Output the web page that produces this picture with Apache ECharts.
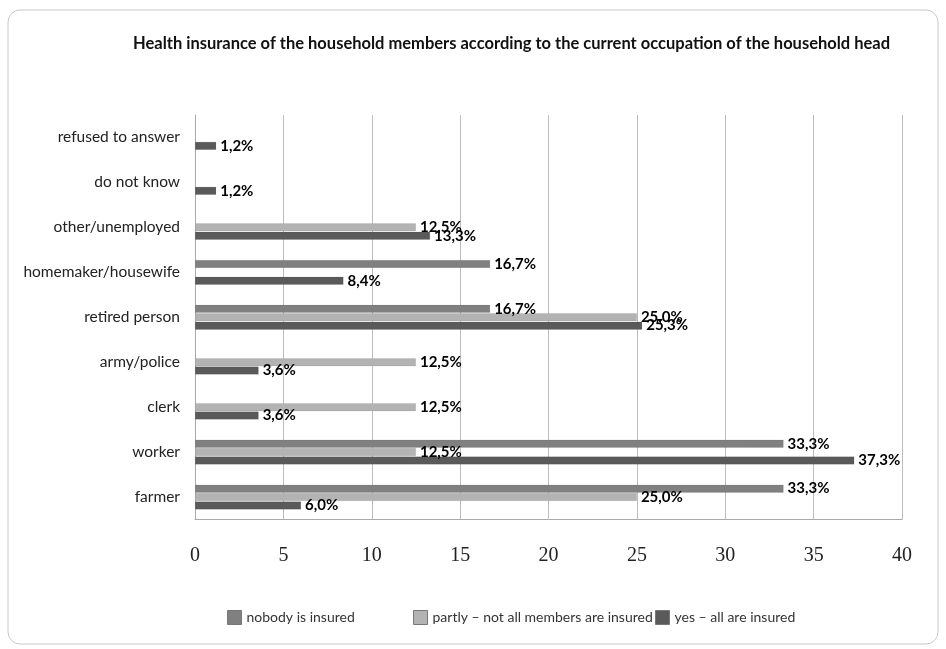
<!DOCTYPE html>
<html>
<head>
<meta charset="utf-8">
<script src="https://cdn.jsdelivr.net/npm/echarts@6/dist/echarts.min.js"></script>
<style>html,body{margin:0;padding:0;background:#fff}#c{width:946px;height:649px}</style>
</head>
<body>
<div id="c"></div>
<script>
const categories = ['farmer','worker','clerk','army/police','retired person','homemaker/housewife','other/unemployed','do not know','refused to answer'];
const nobody = [33.3, 33.3, null, null, 16.7, 16.7, null, null, null];
const partly = [25.0, 12.5, 12.5, 12.5, 25.0, null, 12.5, null, null];
const yes    = [6.0, 37.3, 3.6, 3.6, 25.3, 8.4, 13.3, 1.2, 1.2];
const xTicks = [0, 5, 10, 15, 20, 25, 30, 35, 40];
const seriesNames = ['nobody is insured', 'partly – not all members are insured', 'yes – all are insured'];
const colors = ['#808080', '#b3b3b3', '#5a5a5a'];

const chart = echarts.init(document.getElementById('c'));
const fmt = p => p.value == null ? '' : p.value.toFixed(1).replace('.', ',') + '%';
function mk(name, data, color) {
  return {
    name, type: 'bar', data,
    barWidth: 8, barGap: '5%',
    itemStyle: { color, borderColor: 'rgba(0,0,0,0.15)', borderWidth: 0.5 },
    label: { show: true, position: 'right', formatter: fmt, color: '#000', fontWeight: 'bold', fontSize: 15, fontFamily: 'Lato', distance: 4 }
  };
}
const legendBase = { orient: 'horizontal', top: 605, itemWidth: 14, itemHeight: 14, icon: 'rect',
  textStyle: { color: '#333', fontSize: 14, fontFamily: 'Lato' }, itemStyle: { borderColor: '#777', borderWidth: 1 } };
chart.setOption({
  animation: false,
  title: { text: 'Health insurance of the household members according to the current occupation of the household head',
    left: 128, top: 30, textStyle: { fontSize: 16.5, fontWeight: 'bold', color: '#111', fontFamily: 'Lato' } },
  graphic: [{ type: 'rect', shape: { x: 8, y: 10, width: 930, height: 634, r: 12 }, style: { fill: 'none', stroke: '#c8c8c8', lineWidth: 1 }, z: -1 }],
  legend: [
    Object.assign({ left: 222, data: [seriesNames[0]] }, legendBase),
    Object.assign({ left: 408, data: [seriesNames[1]] }, legendBase),
    Object.assign({ left: 650, data: [seriesNames[2]] }, legendBase)
  ],
  grid: { left: 195, right: 44, top: 115, bottom: 129.5, containLabel: false },
  xAxis: {
    type: 'value', min: 0, max: 40, interval: 5,
    axisLine: { show: true, lineStyle: { color: '#aaa' } }, axisTick: { show: false },
    splitLine: { show: true, lineStyle: { color: '#bdbdbd' } },
    axisLabel: { color: '#222', fontSize: 20, fontFamily: 'Liberation Serif', margin: 26,
      formatter: v => xTicks.includes(v) ? String(v) : '' }
  },
  yAxis: {
    type: 'category', data: categories,
    axisLine: { show: true, lineStyle: { color: '#aaa' } }, axisTick: { show: false },
    axisLabel: { color: '#222', fontSize: 15.5, fontFamily: 'Lato', margin: 15 }
  },
  series: [mk(seriesNames[0], nobody, colors[0]), mk(seriesNames[1], partly, colors[1]), mk(seriesNames[2], yes, colors[2])]
});
</script>
</body>
</html>
